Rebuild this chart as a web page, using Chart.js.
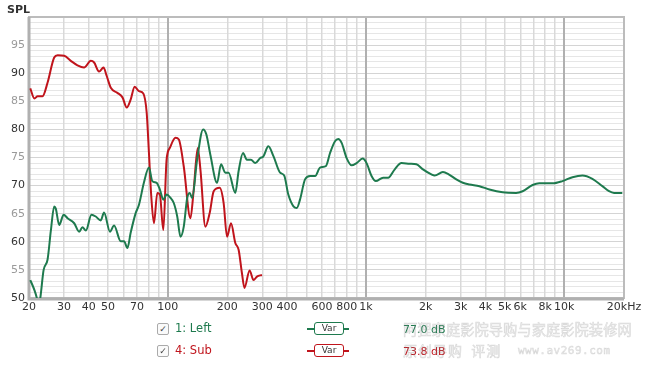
<!DOCTYPE html>
<html><head><meta charset="utf-8">
<script src="https://cdn.jsdelivr.net/npm/chart.js@4/dist/chart.umd.min.js"></script>
<style>
html,body{margin:0;padding:0;background:#fff;}
#wrap{position:relative;width:650px;height:379px;overflow:hidden;font-family:"DejaVu Sans",sans-serif;}
#c{position:absolute;left:0;top:0;}
.t{position:absolute;white-space:nowrap;line-height:1;}
.cb{position:absolute;width:10px;height:10px;border:1px solid #aaa;border-radius:2px;background:#fafafa;font-size:9px;line-height:10px;text-align:center;color:#444;}
.vl{position:absolute;height:2px;}
.vb{position:absolute;width:28px;height:11px;border-radius:3px;background:#fff;font-size:9px;line-height:11px;text-align:center;color:#333;}
.wm{position:absolute;white-space:nowrap;line-height:1;color:rgba(160,160,160,0.16);-webkit-text-stroke:0.5px rgba(130,130,130,0.28);}
</style></head><body>
<div id="wrap">
<canvas id="c" width="650" height="379"></canvas>
<div class="t" style="left:7px;top:4px;font-size:11px;font-weight:bold;color:#333">SPL</div>

<div class="cb" style="left:157px;top:323px">✓</div>
<div class="t" style="left:175px;top:323px;font-size:11.5px;color:#1e7a4e">1: Left</div>
<div class="vl" style="left:307px;top:328px;width:42px;background:#1e7a4e"></div>
<div class="vb" style="left:314px;top:322px;border:1.5px solid #1e7a4e">Var</div>
<div class="t" style="left:403px;top:324px;font-size:11px;color:#1e7a4e">77.0 dB</div>

<div class="cb" style="left:157px;top:345px">✓</div>
<div class="t" style="left:175px;top:345px;font-size:11.5px;color:#c0141c">4: Sub</div>
<div class="vl" style="left:307px;top:350px;width:42px;background:#c0141c"></div>
<div class="vb" style="left:314px;top:344px;border:1.5px solid #c0141c">Var</div>
<div class="t" style="left:403px;top:346px;font-size:11px;color:#c0141c">73.8 dB</div>

<div class="wm" style="left:403px;top:322px;font-size:14.3px;font-family:'Noto Sans CJK SC'">阿狸家庭影院导购与家庭影院装修网</div>
<div class="wm" style="left:403px;top:343px;font-size:14px;font-family:'Noto Sans CJK SC';letter-spacing:1px">原创导购&nbsp;&nbsp;评测</div>
<div class="wm" style="left:518px;top:345px;font-size:11px;font-family:'DejaVu Sans Mono';letter-spacing:0.5px">www.av269.com</div>
</div>
<script>
// ---- data ----
const subFreq = [20.3,21.3,22.1,23.4,24.8,26.8,27.9,30.1,32.5,35.1,37.9,41.0,42.6,45.1,47.5,49.3,51.7,55.8,59.2,62.2,65.1,68.2,71.7,75.4,78.4,80.5,82.7,85.3,88.7,91.4,95.1,98.8,102.6,109.6,113.9,120.6,130.3,135.4,141.8,146.3,155.0,162.9,170.7,183.0,191.6,199.3,208.7,219.4,228,237,244,259,271,282,299];
const subDb = [87.3,85.5,85.9,85.9,88.3,92.8,93.2,93.1,92.2,91.4,91.0,92.2,91.9,90.3,91.0,89.5,87.4,86.5,85.7,83.9,85.3,87.6,86.8,86.4,83.0,75.8,68.1,63.3,68.7,68.4,62.1,74.6,76.7,78.5,78.2,73.4,64.2,69.3,76.7,72.9,62.7,65.1,69.0,69.6,66.9,60.9,63.3,59.8,58.6,54.4,51.8,54.9,53.2,53.8,54.1];

const leftFreq = [20.3,21.3,21.9,22.3,22.8,23.7,24.8,25.8,26.8,27.3,28.4,29.9,31.3,33.8,35.8,37.2,38.7,41.3,43.4,46.0,47.8,51.2,53.7,58.0,60.3,62.7,65.1,69.0,71.7,75.9,80.5,83.7,88.0,91.4,95.1,98.8,103.4,107.4,111.8,116.1,120.6,125.5,129.3,132.9,140.8,151.0,156.8,164.2,177.5,185.9,195.4,203,219.4,228,239.9,251,263,276.5,293,304,322,342,369,387,406,431,448,465,493,523,554,587,629,659,698,725,754,799,847,897,962,1007,1067,1121,1220,1293,1397,1510,1662,1796,1938,2137,2220,2443,2590,2854,3080,3329,3735,4193,4890,5712,6166,6922,7481,8724,9794,10997,12346,13858,15560,16812,17812,19612];
const leftDb = [53.2,51.4,50.0,48.5,50.0,55.0,56.8,62.1,66.3,65.9,63.0,64.8,64.2,63.3,61.8,62.6,62.0,64.8,64.5,63.8,65.2,61.8,62.9,60.1,60.1,58.9,61.6,65.1,66.6,70.5,73.2,70.8,70.5,69.3,67.5,68.4,67.8,66.9,64.5,60.9,62.7,67.8,68.7,67.8,74.6,80.0,79.1,75.5,70.5,73.8,72.3,72.3,68.7,72.6,75.8,74.6,74.6,74.0,74.9,75.2,77.0,75.2,72.3,71.8,68.4,66.3,66.0,67.5,71.1,71.7,71.7,73.2,73.5,75.8,77.9,78.3,77.6,74.9,73.6,74.0,74.8,74.0,71.7,70.8,71.4,71.4,72.9,74.0,73.9,73.8,72.9,72.0,71.8,72.4,72.1,71.1,70.5,70.2,69.9,69.3,68.8,68.7,69.0,70.1,70.4,70.4,70.8,71.5,71.8,71.2,69.9,69.0,68.7,68.7];

const xGridValues = [20,30,40,50,60,70,80,90,100,200,300,400,500,600,700,800,900,1000,2000,3000,4000,5000,6000,7000,8000,9000,10000,20000];
const xLabelValues = [20,30,40,50,70,100,200,300,400,600,800,1000,2000,3000,4000,5000,6000,8000,10000,20000];
const xLabelTexts = ["20","30","40","50","70","100","200","300","400","600","800","1k","2k","3k","4k","5k","6k","8k","10k","20kHz"];
const yMin = 50, yMax = 100;

const GREEN = '#1e7a4e', RED = '#c0141c';

function pts(fs, ds){ return fs.map((f,i)=>({x:f,y:ds[i]})); }

const framePlugin = {
  id:'frame',
  beforeDatasetsDraw(chart){
    const {ctx, chartArea:a} = chart;
    ctx.save();
    ctx.strokeStyle = '#bcbcbc';
    ctx.lineWidth = 2;
    ctx.strokeRect(a.left, a.top, a.right-a.left, a.bottom-a.top);
    ctx.strokeStyle = '#b0b0b0';
    ctx.lineWidth = 3;
    ctx.beginPath();
    ctx.moveTo(a.left, a.top); ctx.lineTo(a.left, a.bottom+1); ctx.lineTo(a.right, a.bottom+1);
    ctx.stroke();
    ctx.restore();
  }
};

const isMajor = v => (v===100||v===1000||v===10000);

new Chart(document.getElementById('c'), {
  type:'line',
  data:{
    datasets:[
      {label:'1: Left', data:pts(leftFreq,leftDb), borderColor:GREEN, borderWidth:2, pointRadius:0, cubicInterpolationMode:'monotone', fill:false},
      {label:'4: Sub', data:pts(subFreq,subDb), borderColor:RED, borderWidth:2, pointRadius:0, cubicInterpolationMode:'monotone', fill:false}
    ]
  },
  options:{
    responsive:false, animation:false, devicePixelRatio:1,
    layout:{padding:{left:0,right:26,top:17,bottom:0}},
    plugins:{legend:{display:false}, tooltip:{enabled:false}},
    scales:{
      x:{
        type:'logarithmic', min:20, max:20000,
        afterBuildTicks(s){ s.ticks = xGridValues.map(v=>({value:v})); },
        afterFit(s){ s.height = 81; },
        border:{display:false},
        grid:{drawTicks:false, z:0,
          color:c=>{const v=c.tick&&c.tick.value; return isMajor(v)?'#b0b0b0':'#d9d9d9';},
          lineWidth:c=>{const v=c.tick&&c.tick.value; return isMajor(v)?2:1.5;}},
        ticks:{autoSkip:false, maxRotation:0, padding:3, color:'#333',
          font:{family:'DejaVu Sans', size:11},
          callback:(v)=>{const i=xLabelValues.indexOf(v); return i>=0?xLabelTexts[i]:'';}}
      },
      y:{
        type:'linear', min:yMin, max:yMax,
        afterBuildTicks(s){ const t=[]; for(let v=yMin; v<=yMax; v++) t.push({value:v}); s.ticks=t; },
        afterFit(s){ s.width = 29; },
        border:{display:false},
        grid:{drawTicks:false, z:-1,
          color:c=>{const v=c.tick&&c.tick.value; return v%5===0?'#d4d4d4':'#e6e6e6';},
          lineWidth:1},
        ticks:{autoSkip:false, padding:4,
          font:{family:'DejaVu Sans', size:11},
          color:c=>{const v=c.tick&&c.tick.value; return v%10===0?'#333':'#9a9a9a';},
          callback:(v)=> (v%5===0 && v<100)? String(v):''}
      }
    }
  },
  plugins:[framePlugin]
});
</script>
</body></html>
